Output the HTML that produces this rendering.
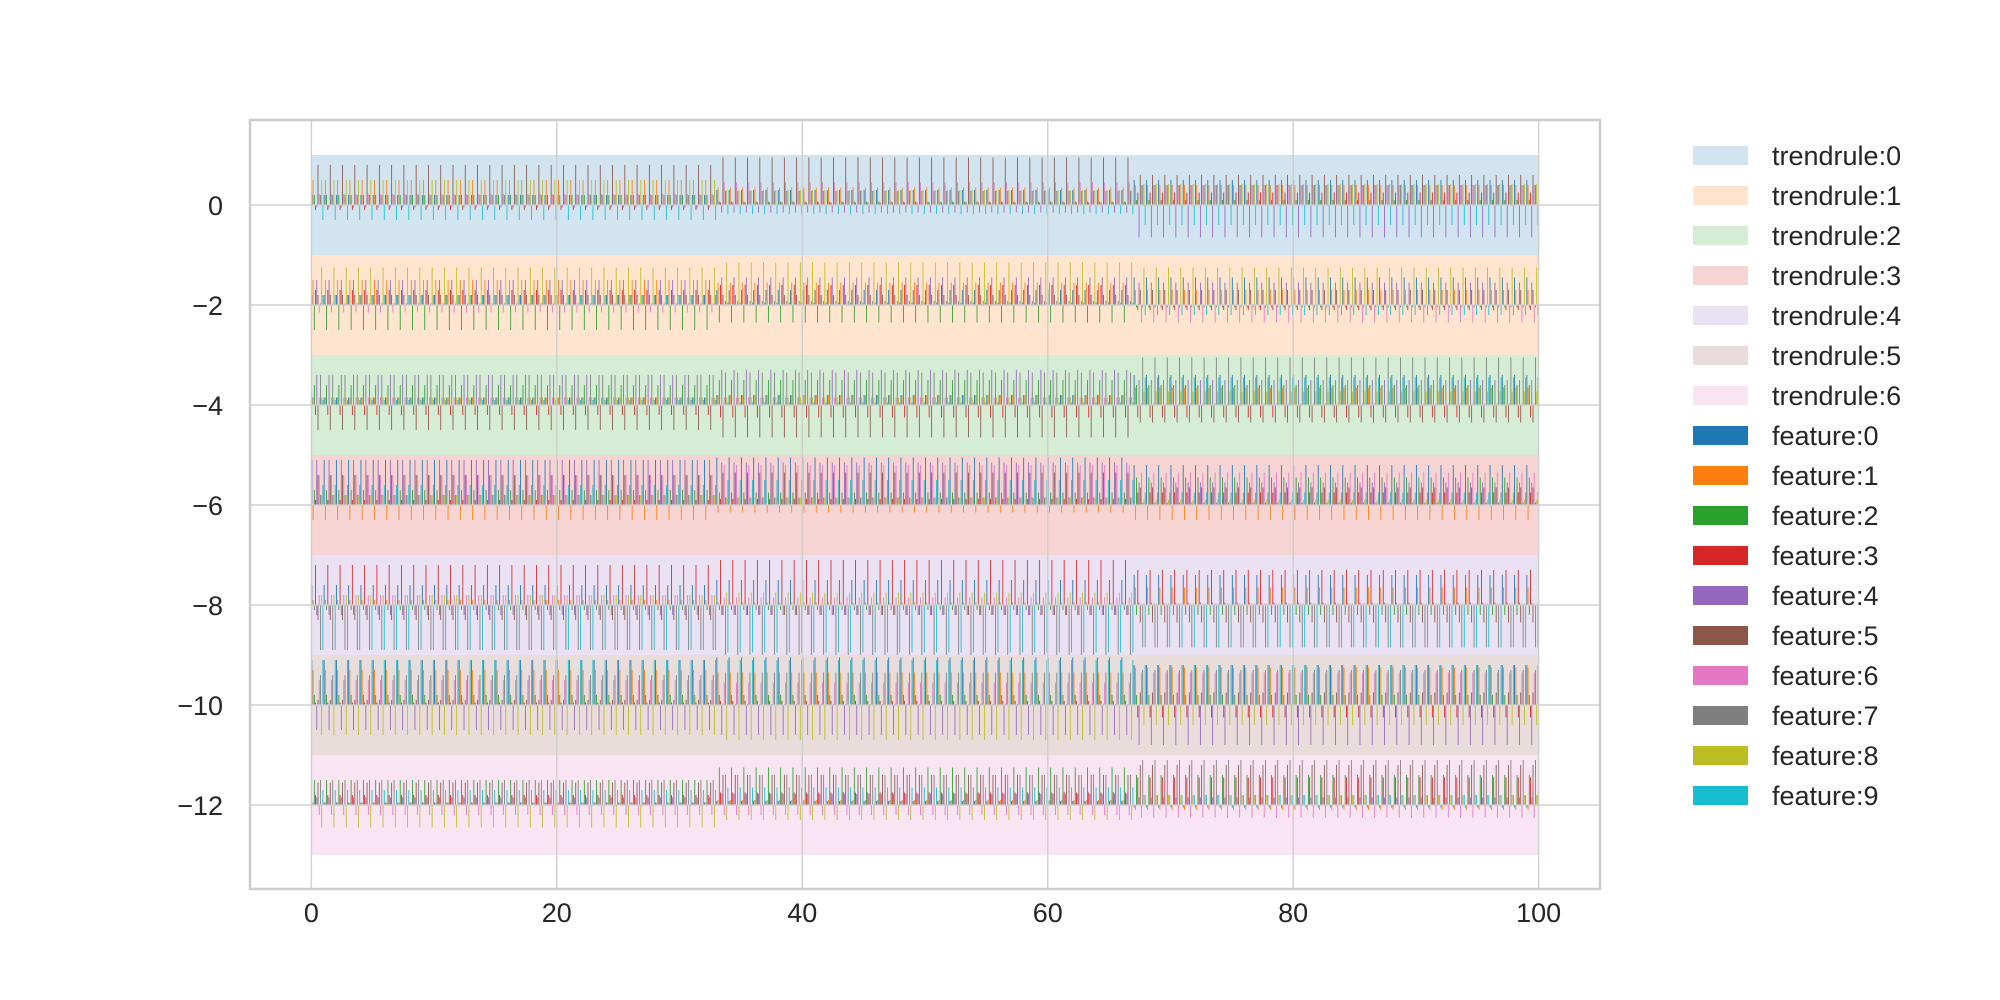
<!DOCTYPE html>
<html><head><meta charset="utf-8"><style>
body{margin:0;background:#fff}
svg{display:block;font-family:"Liberation Sans","DejaVu Sans",sans-serif}
</style></head><body>
<svg id="chart" width="2000" height="1000" viewBox="0 0 2000 1000">
<rect width="2000" height="1000" fill="#fff"/>
<g id="bands"></g>
<g id="bars"></g>
<g id="grid"></g>
<rect x="250" y="120" width="1350" height="769" fill="none" stroke="#cccccc" stroke-width="2.5"/>
<g id="ticks"></g>
<g id="legend"></g>
</svg>
<script>
const trendrules = ["trendrule:0","trendrule:1","trendrule:2","trendrule:3","trendrule:4","trendrule:5","trendrule:6"];
const features = ["feature:0","feature:1","feature:2","feature:3","feature:4","feature:5","feature:6","feature:7","feature:8","feature:9"];
const colors = ["#1f77b4","#ff7f0e","#2ca02c","#d62728","#9467bd","#8c564b","#e377c2","#7f7f7f","#bcbd22","#17becf"];
const xTicks = [0,20,40,60,80,100];
const yTicks = [0,-2,-4,-6,-8,-10,-12];
const nPoints = 100;
// Values per trendrule: three segments (x 0-32, 33-66, 67-99), each 10 feature values
const seg0 = [
 [0.2,0.5,0.2,-0.1,-0.05,0.8,0.22,0.2,0.5,-0.3],
 [0.2,0.5,-0.5,0.3,0.5,0.2,-0.15,0.03,0.75,0.2],
 [0.15,0.15,0.4,-0.2,0.6,-0.5,0.15,0.6,0.15,0.1],
 [0.9,-0.3,0.3,0.1,0.9,0.6,0.6,0.2,0.2,0.4],
 [0.4,0.1,-0.1,0.8,-0.2,-0.3,0.2,-0.9,0.2,-0.9],
 [0.9,0.7,0.2,0.05,-0.5,0.1,0.5,0.6,-0.6,0.9],
 [0.05,0.05,0.5,0.2,0.15,0.45,-0.2,0.5,-0.45,0.3]
];
const seg1 = [
 [0.3,0.35,0.07,0.05,-0.15,0.95,0.45,0.28,0.3,-0.18],
 [0.3,0.45,-0.35,0.4,0.55,0.2,-0.02,0.08,0.85,0.05],
 [0.2,0.2,0.5,-0.25,0.7,-0.65,0.15,0.65,0.15,0.05],
 [0.95,-0.15,0.25,0.12,0.85,0.65,0.8,0.15,0.15,0.5],
 [0.5,0.05,-0.1,0.9,-0.2,-0.2,0.15,-1.0,0.25,-0.95],
 [0.95,0.65,0.2,0.08,-0.6,0.02,0.45,0.65,-0.7,0.9],
 [0.08,0.1,0.75,0.25,0.22,0.6,-0.2,0.6,-0.3,0.35]
];
const seg2 = [
 [0.5,0.4,0.1,0.25,-0.65,0.6,0.4,0.4,0.42,-0.4],
 [0.55,0.3,-0.05,-0.1,0.45,0.3,-0.35,-0.05,0.75,-0.2],
 [0.6,0.35,0.4,-0.25,0.5,-0.35,0.03,0.95,0.27,0.55],
 [0.8,-0.3,0.55,0.25,0.45,0.35,0.65,0.05,0.1,0.25],
 [0.6,0.35,-0.2,0.7,0.05,-0.35,0.03,-0.85,0.03,-0.85],
 [0.8,0.75,0.2,-0.25,-0.8,0.25,0.65,0.7,-0.4,0.8],
 [-0.05,-0.1,0.6,0.55,0.15,0.8,-0.25,0.9,0.2,0.2]
];
const segments = [seg0, seg1, seg2];
const segBreaks = [33, 67];

const NS = "http://www.w3.org/2000/svg";
const X0 = 250, X1 = 1600, Y0 = 120, Y1 = 889;
const xMin = -5, xMax = 105, yMin = -13.68, yMax = 1.7;
function sx(v){ return X0 + (v - xMin) / (xMax - xMin) * (X1 - X0); }
function sy(v){ return Y0 + (yMax - v) / (yMax - yMin) * (Y1 - Y0); }
function mk(tag, attrs, parent){ const e = document.createElementNS(NS, tag); for (const k in attrs) e.setAttribute(k, attrs[k]); parent.appendChild(e); return e; }

const gBands = document.getElementById('bands');
trendrules.forEach((t, r) => {
  const base = -2 * r;
  const e = mk('rect', {x: sx(0), y: sy(base + 1), width: sx(100) - sx(0), height: sy(base - 1) - sy(base + 1), fill: colors[r], 'fill-opacity': 0.2}, gBands);
  
  
});

const gBars = document.getElementById('bars');
const bw = 0.07;
for (let r = 0; r < trendrules.length; r++) {
  const base = -2 * r;
  for (let f = 0; f < features.length; f++) {
    let d = '';
    for (let i = 0; i < nPoints; i++) {
      const s = i < segBreaks[0] ? 0 : (i < segBreaks[1] ? 1 : 2);
      const v = segments[s][r][f];
      const xc = i + f * 0.1 + 0.04;
      const xa = sx(xc - bw / 2), xb = sx(xc + bw / 2);
      const ya = sy(base + Math.max(v, 0)), yb = sy(base + Math.min(v, 0));
      d += 'M' + xa.toFixed(2) + ' ' + ya.toFixed(2) + 'H' + xb.toFixed(2) + 'V' + yb.toFixed(2) + 'H' + xa.toFixed(2) + 'Z';
    }
    const p = mk('path', {d: d, fill: colors[f]}, gBars);
    
    
  }
}

const gGrid = document.getElementById('grid');
const gTicks = document.getElementById('ticks');
xTicks.forEach(v => {
  const l = mk('line', {x1: sx(v), x2: sx(v), y1: Y0, y2: Y1, stroke: '#cccccc', 'stroke-width': 1.5, 'stroke-opacity': 0.9}, gGrid);
  
  
  const t = mk('text', {x: sx(v), y: 922, 'text-anchor': 'middle', 'font-size': 27, fill: '#262626'}, gTicks);
  t.textContent = String(v);
  
  
});
yTicks.forEach(v => {
  const l = mk('line', {x1: X0, x2: X1, y1: sy(v), y2: sy(v), stroke: '#cccccc', 'stroke-width': 1.5, 'stroke-opacity': 0.9}, gGrid);
  
  
  const t = mk('text', {x: 223, y: sy(v) + 10, 'text-anchor': 'end', 'font-size': 27, fill: '#262626'}, gTicks);
  t.textContent = v < 0 ? '\u2212' + Math.abs(v) : String(v);
  
  
});

const gLeg = document.getElementById('legend');
const labels = trendrules.concat(features);
labels.forEach((lab, i) => {
  const isBand = i < trendrules.length;
  const c = isBand ? colors[i] : colors[i - trendrules.length];
  const y = 146 + i * 40;
  const g = mk('g', {}, gLeg);
  
  
  mk('rect', {x: 1693, y: y, width: 55, height: 19, fill: c, 'fill-opacity': isBand ? 0.2 : 1}, g);
  const t = mk('text', {x: 1772, y: y + 19, 'font-size': 27, fill: '#262626'}, g);
  t.textContent = lab;
});
</script>
</body></html>
